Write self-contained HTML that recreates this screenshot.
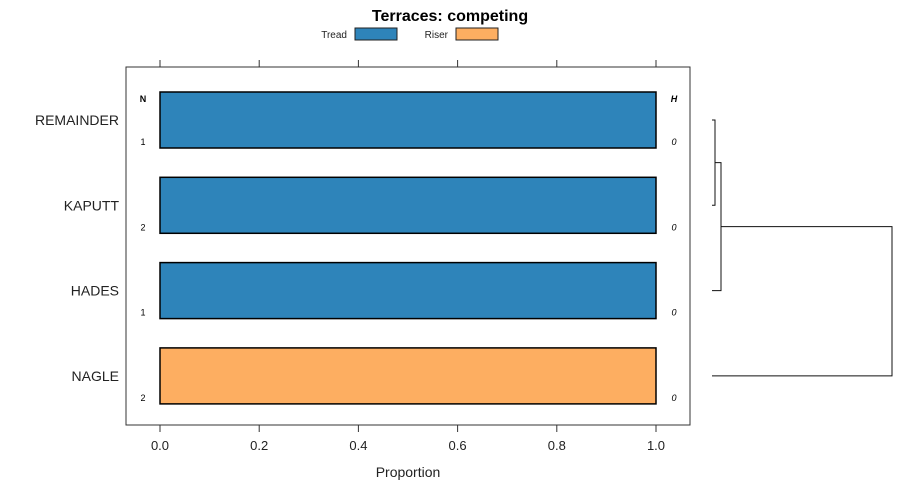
<!DOCTYPE html>
<html><head><meta charset="utf-8"><style>body{margin:0;background:#fff}svg{display:block;font-family:"Liberation Sans",sans-serif}</style></head>
<body>
<svg id="chart" width="900" height="500">
<text x="450" y="21" text-anchor="middle" font-size="16" font-weight="bold">Terraces: competing</text>
<g>
<text x="347" y="38" text-anchor="end" font-size="10" fill="#222">Tread</text>
<rect x="355" y="28" width="42" height="12" fill="#2e84ba" stroke="#222"/>
<text x="448" y="38" text-anchor="end" font-size="10" fill="#222">Riser</text>
<rect x="456" y="28" width="42" height="12" fill="#fdae61" stroke="#222"/>
</g>
<rect x="126" y="67" width="564" height="358" fill="none" stroke="#333"/>
<g id="axes"></g>
<g id="bars"></g>
<text x="143" y="102" text-anchor="middle" font-size="9" font-weight="bold">N</text>
<text x="674" y="102" text-anchor="middle" font-size="9" font-weight="bold" font-style="italic">H</text>
<text x="408" y="477" text-anchor="middle" font-size="14" fill="#222">Proportion</text>
<g id="dendro" fill="none" stroke="#111" stroke-width="1"></g>
</svg>
<script>
const categories=["REMAINDER","KAPUTT","HADES","NAGLE"];
const treadValues=[1,1,1,0];
const riserValues=[0,0,0,1];
const nValues=[1,2,1,2];
const hValues=[0,0,0,0];
const xTicks=[0,0.2,0.4,0.6,0.8,1.0];
const xTickLabels=["0.0","0.2","0.4","0.6","0.8","1.0"];
const NS="http://www.w3.org/2000/svg";
const xs=v=>160+v*496;
const yc=i=>120+i*85.3;
function mk(tag,attrs,parent,text){const e=document.createElementNS(NS,tag);for(const k in attrs)e.setAttribute(k,attrs[k]);if(text!==undefined)e.textContent=text;parent.appendChild(e);return e;}
const axes=document.getElementById('axes');
xTicks.forEach((t,i)=>{
 let l=mk('line',{x1:xs(t),x2:xs(t),y1:425,y2:432,stroke:'#333'},axes);
 
 
 l=mk('line',{x1:xs(t),x2:xs(t),y1:60,y2:67,stroke:'#333'},axes);
 
 
 const tx=mk('text',{x:xs(t),y:450,'text-anchor':'middle','font-size':13,fill:'#222'},axes,xTickLabels[i]);
 
 
});
const bars=document.getElementById('bars');
categories.forEach((c,i)=>{
 const y=yc(i);
 const lab=mk('text',{x:119,y:y+5,'text-anchor':'end','font-size':14,fill:'#222'},bars,c);
 
 
 let x0=0;
 [[treadValues[i],'#2e84ba','bar-tread'],[riserValues[i],'#fdae61','bar-riser']].forEach(([v,col,nm])=>{
  if(v>0){const r=mk('rect',{x:xs(x0),y:y-28,width:xs(x0+v)-xs(x0),height:56,fill:col,stroke:'#000','stroke-width':1.5},bars);
  
  }
  x0+=v;
 });
 const n=mk('text',{x:143,y:y+25,'text-anchor':'middle','font-size':9},bars,nValues[i]);
 
 
 const h=mk('text',{x:674,y:y+25,'text-anchor':'middle','font-size':9,'font-style':'italic'},bars,hValues[i]);
 
 
});
const d=document.getElementById('dendro');
const segs=[
 `M712 ${yc(0)}H715V${yc(1)}H712`,
 `M715 ${(yc(0)+yc(1))/2}H721V${yc(2)}H712`,
 `M721 ${((yc(0)+yc(1))/2+yc(2))/2}H892V${yc(3)}H712`
];
segs.forEach(p=>{const e=mk('path',{d:p},d);
 
 });
</script>
</body></html>
